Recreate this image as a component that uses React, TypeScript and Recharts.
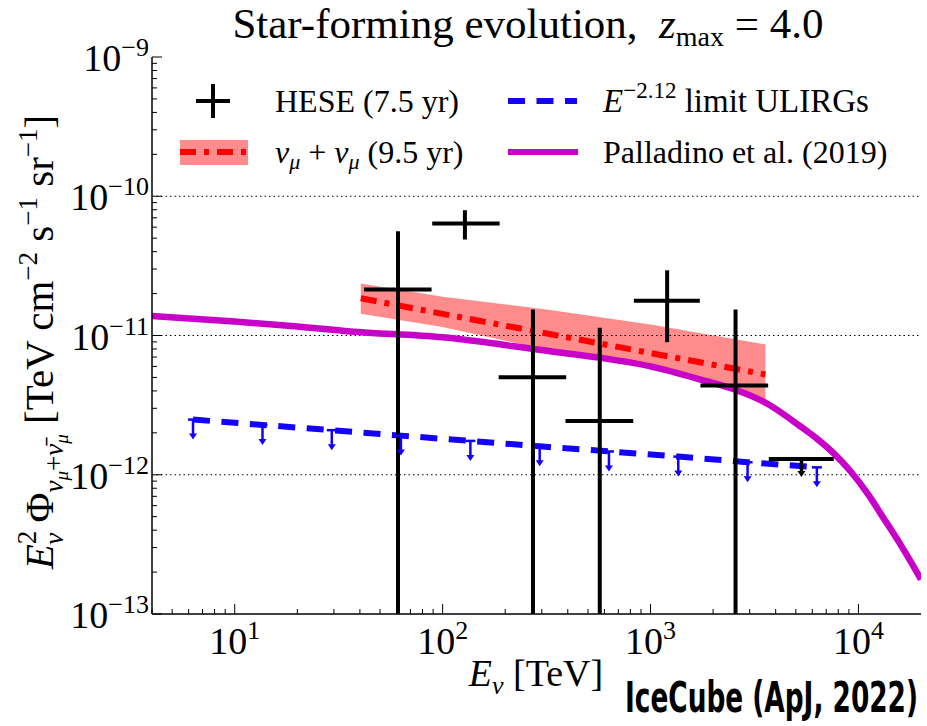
import React from "react";
import { ComposedChart, Line, Area, Scatter, XAxis, YAxis, ReferenceLine } from "recharts";

const W = 927;
const H = 726;
const SERIF = '"Liberation Serif", "DejaVu Serif", serif';

// axis ticks (log decades + minor ticks)
const xMajor = [10, 100, 1000, 10000];
const xMinor = [4, 5, 6, 7, 8, 9, 20, 30, 40, 50, 60, 70, 80, 90, 200, 300, 400, 500, 600, 700, 800, 900, 2000, 3000, 4000, 5000, 6000, 7000, 8000, 9000];
const yMajor = [1e-13, 1e-12, 1e-11, 1e-10, 1e-9];
const yMinor = [
  2e-13, 3e-13, 4e-13, 5e-13, 6e-13, 7e-13, 8e-13, 9e-13,
  2e-12, 3e-12, 4e-12, 5e-12, 6e-12, 7e-12, 8e-12, 9e-12,
  2e-11, 3e-11, 4e-11, 5e-11, 6e-11, 7e-11, 8e-11, 9e-11,
  2e-10, 3e-10, 4e-10, 5e-10, 6e-10, 7e-10, 8e-10, 9e-10,
];
const gridFlux = [1e-12, 1e-11, 1e-10];

// HESE 7.5 yr segmented unfolding: bin centre, bin edges, E^2 flux and its range
const heseE = [61, 128, 272, 570, 1202, 2564];
const heseBinLo = [41.9, 89.1, 186, 390, 832, 1738];
const heseBinHi = [88.5, 188, 393, 826, 1726, 3680];
const heseFlux = [2.14e-11, 6.37e-11, 5.02e-12, 2.43e-12, 1.78e-11, 4.38e-12];
const heseFluxLo = [1e-13, 4.89e-11, 1e-13, 1e-13, 8.95e-12, 1e-13];
const heseFluxHi = [5.6e-11, 7.94e-11, 1.54e-11, 1.135e-11, 2.94e-11, 1.54e-11];
// last HESE bin is an upper limit
const heseLimE = [5320];
const heseLimLo = [3706];
const heseLimHi = [7610];
const heseLimFlux = [1.3e-12];

// nu_mu 9.5 yr power-law fit and its band
const fitE = [40.4, 100, 1000, 3570];
const fitFlux = [1.85e-11, 1.43e-11, 7.48e-12, 5.25e-12];
const bandE = [40.4, 100, 316, 1000, 3570];
const bandLo = [1.43e-11, 1.15e-11, 7.9e-12, 6.2e-12, 3.48e-12];
const bandHi = [2.36e-11, 1.9e-11, 1.54e-11, 1.2e-11, 8.63e-12];

// Palladino et al. (2019)
const palE = [4, 10, 20, 36, 100, 330, 575, 1000, 1740, 2540, 3630, 5250, 6330, 7590, 9160, 11050, 13330, 15920, 20000];
const palFlux = [1.38e-11, 1.26e-11, 1.16e-11, 1.07e-11, 9.7e-12, 7.7e-12, 6.92e-12, 6.0e-12, 4.83e-12, 4.09e-12, 3.25e-12, 2.23e-12, 1.81e-12, 1.43e-12, 1.06e-12, 7.35e-13, 4.78e-13, 3.16e-13, 1.77e-13];

// E^-2.12 upper limit for ULIRGs
const ulirgE = [6.3, 13.6, 29.3, 63, 136, 293, 631, 1360, 2930, 6310];
const ulirgFlux = [2.49e-12, 2.28e-12, 2.09e-12, 1.91e-12, 1.75e-12, 1.6e-12, 1.47e-12, 1.35e-12, 1.23e-12, 1.13e-12];

const RED = "#ff0000";
const PINK = "#ff8c8c";
const MAGENTA = "#c800c8";
const BLUE = "#1400ff";
const RED_DASH = "16 8 5 8";
const BLUE_DASH = "17 11.5";

const xTicks = [...xMajor, ...xMinor].sort((a, b) => a - b);
const yTicks = [...yMajor, ...yMinor].sort((a, b) => a - b);

const pal = palE.map((x, i) => ({ x, y: palFlux[i] }));
const fit = fitE.map((x, i) => ({ x, y: fitFlux[i] }));
const band = bandE.map((x, i) => ({ x, range: [bandLo[i], bandHi[i]] }));
const ulirg = ulirgE.map((x, i) => ({ x, y: ulirgFlux[i] }));
const heseLim = heseLimE.map((x, i) => ({ x, y: heseLimFlux[i] }));

const expOf = (v: number) => String(Math.round(Math.log10(v))).replace("-", "\u2212");

function BottomTick(props: any) {
  const { x, y, payload } = props;
  const major = xMajor.includes(payload.value);
  return (
    <g>
      <line x1={x} x2={x} y1={y} y2={y - (major ? 10 : 5)} stroke="#000" strokeWidth={1} />
      {major && (
        <text x={x} y={y + 40} textAnchor="middle" fontFamily={SERIF} fontSize={38} fill="#000">
          10<tspan fontSize={26} dy={-15}>{expOf(payload.value)}</tspan>
        </text>
      )}
    </g>
  );
}

function TopTick(props: any) {
  const { x, y, payload } = props;
  const major = xMajor.includes(payload.value);
  return <line x1={x} x2={x} y1={y} y2={y + (major ? 10 : 5)} stroke="#000" strokeWidth={1} />;
}

function LeftTick(props: any) {
  const { x, y, payload } = props;
  const major = yMajor.includes(payload.value);
  return (
    <g>
      <line x1={x} x2={x + (major ? 10 : 5)} y1={y} y2={y} stroke="#000" strokeWidth={1} />
      {major && (
        <text x={x - 3} y={y + 14} textAnchor="end" fontFamily={SERIF} fontSize={38} fill="#000">
          10<tspan fontSize={26} dy={-15}>{expOf(payload.value)}</tspan>
        </text>
      )}
    </g>
  );
}

function RightTick(props: any) {
  const { x, y, payload } = props;
  const major = yMajor.includes(payload.value);
  return <line x1={x} x2={x - (major ? 10 : 5)} y1={y} y2={y} stroke="#000" strokeWidth={1} />;
}

// downward arrow marking an upper limit
function DownArrow(props: any) {
  const { cx, cy, color, len, sw, cap } = props;
  if (cx == null || cy == null) return null;
  return (
    <g>
      {cap > 0 && <line x1={cx - cap} x2={cx + cap} y1={cy} y2={cy} stroke={color} strokeWidth={sw} />}
      <line x1={cx} x2={cx} y1={cy} y2={cy + len - 5} stroke={color} strokeWidth={sw} />
      <path d={`M${cx - 4},${cy + len - 6} L${cx + 4},${cy + len - 6} L${cx},${cy + len} Z`} fill={color} />
    </g>
  );
}

function Overlay() {
  const txt = { fontFamily: SERIF, fill: "#000" };
  return (
    <svg width={W} height={H} style={{ position: "absolute", left: 0, top: 0, pointerEvents: "none" }}>
      {/* title */}
      <text x={528} y={38} textAnchor="middle" fontSize={43} {...txt}>
        {"Star-forming evolution,\u00a0\u00a0"}
        <tspan fontStyle="italic">z</tspan>
        <tspan fontSize={28} dy={8}>max</tspan>
        <tspan dy={-8}>{"\u00a0=\u00a04.0"}</tspan>
      </text>

      {/* legend */}
      <line x1={196} x2={230} y1={101} y2={101} stroke="#000" strokeWidth={4} />
      <line x1={213} x2={213} y1={84} y2={118} stroke="#000" strokeWidth={4} />
      <text x={275} y={112} fontSize={32} {...txt}>HESE (7.5 yr)</text>
      <line x1={508} x2={577} y1={101} y2={101} stroke={BLUE} strokeWidth={6} strokeDasharray={BLUE_DASH} />
      <text x={603} y={112} fontSize={33} {...txt}>
        <tspan fontStyle="italic">E</tspan>
        <tspan fontSize={23} dy={-14}>{"\u22122.12"}</tspan>
        <tspan dy={14}>{"\u00a0limit ULIRGs"}</tspan>
      </text>

      <rect x={180} y={140} width={68} height={25} fill={PINK} />
      <line x1={180} x2={248} y1={152} y2={152} stroke={RED} strokeWidth={6} strokeDasharray={RED_DASH} />
      <text x={275} y={163} fontSize={32} {...txt}>
        <tspan fontStyle="italic">ν</tspan>
        <tspan fontSize={22} fontStyle="italic" dy={6}>μ</tspan>
        <tspan dy={-6}>{"\u00a0+\u00a0"}</tspan>
        <tspan fontStyle="italic">ν</tspan>
        <tspan fontSize={22} fontStyle="italic" dy={6}>μ</tspan>
        <tspan dy={-6}>{"\u00a0(9.5 yr)"}</tspan>
      </text>
      <line x1={508} x2={578} y1={152} y2={152} stroke={MAGENTA} strokeWidth={6} />
      <text x={603} y={163} fontSize={32} {...txt}>Palladino et al. (2019)</text>

      {/* x label */}
      <text x={536} y={686} textAnchor="middle" fontSize={38} {...txt}>
        <tspan fontStyle="italic">E</tspan>
        <tspan fontSize={26} fontStyle="italic" dy={8}>ν</tspan>
        <tspan dy={-8}>{"\u00a0[TeV]"}</tspan>
      </text>

      {/* y label */}
      <text transform="translate(53, 342) rotate(-90)" textAnchor="middle" fontSize={41} {...txt}>
        <tspan fontStyle="italic">E</tspan>
        <tspan fontSize={27} dy={-17}>2</tspan>
        <tspan fontSize={27} fontStyle="italic" dx={-14} dy={27}>ν</tspan>
        <tspan dy={-10}>{"\u00a0Φ"}</tspan>
        <tspan fontSize={27} fontStyle="italic" dy={10}>ν</tspan>
        <tspan fontSize={19} fontStyle="italic" dy={5}>μ</tspan>
        <tspan fontSize={27} dy={-5}>+</tspan>
        <tspan fontSize={27} fontStyle="italic">{"ν\u0304"}</tspan>
        <tspan fontSize={19} fontStyle="italic" dy={5}>μ</tspan>
        <tspan dy={-15}>{"\u00a0[TeV cm"}</tspan>
        <tspan fontSize={27} dy={-16}>{"\u22122"}</tspan>
        <tspan dy={16}>{"\u00a0s"}</tspan>
        <tspan fontSize={27} dy={-16}>{"\u22121"}</tspan>
        <tspan dy={16}>{"\u00a0sr"}</tspan>
        <tspan fontSize={27} dy={-16}>{"\u22121"}</tspan>
        <tspan dy={16}>]</tspan>
      </text>

      {/* credit, condensed bold and stretched upward */}
      <g transform="translate(625, 712) scale(1, 1.5)">
        <text
          x={0}
          y={0}
          fontFamily='"Liberation Sans Narrow", "DejaVu Sans Condensed", "Liberation Sans", sans-serif'
          fontWeight="bold"
          fontSize={28}
          textLength={293}
          lengthAdjust="spacingAndGlyphs"
          fill="#000"
        >
          IceCube (ApJ, 2022)
        </text>
      </g>
    </svg>
  );
}

export default function App() {
  return (
    <div style={{ position: "absolute", left: 0, top: 0, width: W, height: H, background: "#fff" }}>
      <ComposedChart width={W} height={H} margin={{ top: 57, right: 6, bottom: 0, left: 0 }}>
        <XAxis
          dataKey="x"
          type="number"
          scale="log"
          domain={[4, 20000]}
          allowDataOverflow
          ticks={xTicks}
          interval={0}
          height={112}
          tickSize={0}
          tickMargin={0}
          tickLine={false}
          axisLine={{ stroke: "#000", strokeWidth: 1.5 }}
          tick={(p: any) => <BottomTick {...p} />}
        />
        <XAxis
          xAxisId="top"
          orientation="top"
          dataKey="x"
          type="number"
          scale="log"
          domain={[4, 20000]}
          allowDataOverflow
          ticks={xTicks}
          interval={0}
          height={0}
          tickSize={0}
          tickMargin={0}
          tickLine={false}
          axisLine={{ stroke: "#000", strokeWidth: 1.5 }}
          tick={(p: any) => <TopTick {...p} />}
        />
        <YAxis
          dataKey="y"
          type="number"
          scale="log"
          domain={[1e-13, 1e-9]}
          allowDataOverflow
          ticks={yTicks}
          interval={0}
          width={152}
          tickSize={0}
          tickMargin={0}
          tickLine={false}
          axisLine={{ stroke: "#000", strokeWidth: 1.5 }}
          tick={(p: any) => <LeftTick {...p} />}
        />
        <YAxis
          yAxisId="right"
          orientation="right"
          dataKey="y"
          type="number"
          scale="log"
          domain={[1e-13, 1e-9]}
          allowDataOverflow
          ticks={yTicks}
          interval={0}
          width={0}
          tickSize={0}
          tickMargin={0}
          tickLine={false}
          axisLine={{ stroke: "#000", strokeWidth: 1.5 }}
          tick={(p: any) => <RightTick {...p} />}
        />

        {gridFlux.map((g) => (
          <ReferenceLine key={g} y={g} stroke="#000" strokeWidth={1} strokeDasharray="1.5 3" />
        ))}

        <Area data={band} dataKey="range" type="linear" stroke="none" fill={PINK} fillOpacity={1} isAnimationActive={false} />
        <Line data={fit} dataKey="y" type="linear" stroke={RED} strokeWidth={6} strokeDasharray={RED_DASH} dot={false} isAnimationActive={false} />
        <Line data={pal} dataKey="y" type="monotone" stroke={MAGENTA} strokeWidth={6.5} dot={false} isAnimationActive={false} />

        <Line data={ulirg} dataKey="y" type="linear" stroke={BLUE} strokeWidth={6} strokeDasharray={BLUE_DASH} dot={false} isAnimationActive={false} />
        <Scatter
          data={ulirg}
          dataKey="y"
          isAnimationActive={false}
          shape={(p: any) => <DownArrow {...p} color={BLUE} len={20} sw={2.5} cap={5} />}
        />

        {heseE.map((e, i) => (
          <Line
            key={`h${e}`}
            data={[{ x: heseBinLo[i], y: heseFlux[i] }, { x: heseBinHi[i], y: heseFlux[i] }]}
            dataKey="y"
            type="linear"
            stroke="#000"
            strokeWidth={4}
            dot={false}
            isAnimationActive={false}
          />
        ))}
        {heseE.map((e, i) => (
          <Line
            key={`v${e}`}
            data={[{ x: e, y: heseFluxLo[i] }, { x: e, y: heseFluxHi[i] }]}
            dataKey="y"
            type="linear"
            stroke="#000"
            strokeWidth={4}
            dot={false}
            isAnimationActive={false}
          />
        ))}
        {heseLimE.map((e, i) => (
          <Line
            key={`l${e}`}
            data={[{ x: heseLimLo[i], y: heseLimFlux[i] }, { x: heseLimHi[i], y: heseLimFlux[i] }]}
            dataKey="y"
            type="linear"
            stroke="#000"
            strokeWidth={4}
            dot={false}
            isAnimationActive={false}
          />
        ))}
        <Scatter
          data={heseLim}
          dataKey="y"
          isAnimationActive={false}
          shape={(p: any) => <DownArrow {...p} color="#000" len={18} sw={3.5} cap={0} />}
        />
      </ComposedChart>
      <Overlay />
    </div>
  );
}
